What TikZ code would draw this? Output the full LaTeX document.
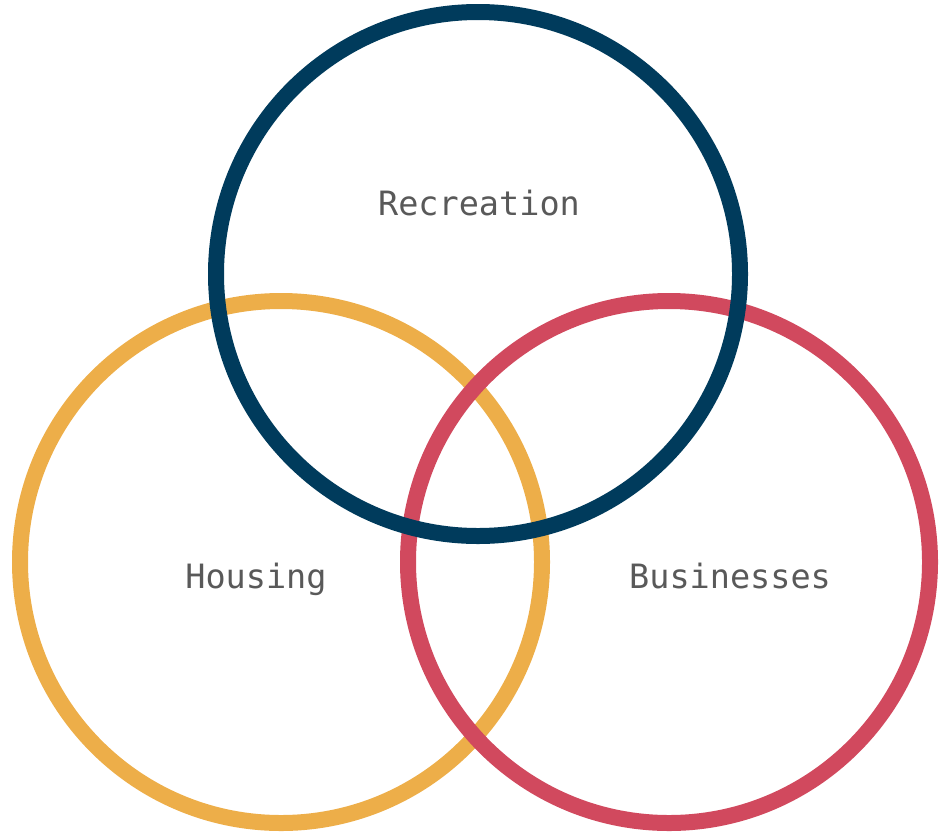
\documentclass[tikz,border=0pt]{standalone}
\usepackage{fontspec}
\newfontfamily\labelfont{DejaVu Sans Mono}
\definecolor{cblue}{RGB}{0,59,92}
\definecolor{cyellow}{RGB}{237,174,73}
\definecolor{cred}{RGB}{209,73,94}
\definecolor{ctext}{RGB}{89,89,89}
\begin{document}
\begin{tikzpicture}[x=1pt,y=-1pt,
  ring/.style={line width=16pt},
  lbl/.style={anchor=base,text=ctext,font=\labelfont\fontsize{33.5}{40}\selectfont,inner sep=0pt}]
\useasboundingbox (0,0) rectangle (941,838);
\coordinate (cy) at (281,562);
\coordinate (cr) at (669,562);
\coordinate (cb) at (478,274);
\draw[ring,cyellow] (cy) circle[radius=261];
\draw[ring,cred] (cr) circle[radius=261];
\draw[ring,cblue] (cb) circle[radius=262];
\node[lbl] (rec) at (479,215) {Recreation};
\node[lbl] (hou) at (256,588) {Housing};
\node[lbl] (bus) at (730,588) {Businesses};
\end{tikzpicture}
\end{document}
